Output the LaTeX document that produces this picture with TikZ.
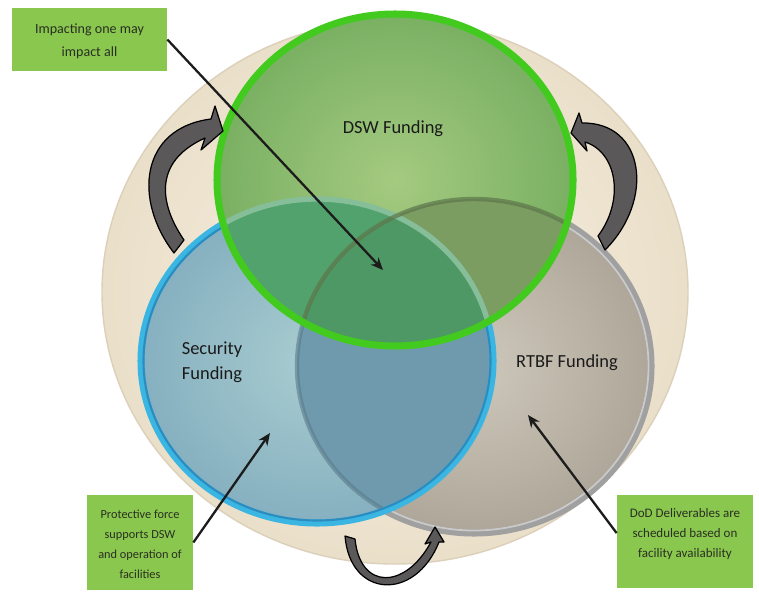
\documentclass[tikz,border=0pt]{standalone}
\usepackage{fontspec}
\setmainfont{Carlito}
\usetikzlibrary{arrows.meta,calc}

\definecolor{beigein}{HTML}{F7F1E4}
\definecolor{beigeout}{HTML}{EADFC9}
\definecolor{beigeedge}{HTML}{DCD0BA}
\definecolor{grayin}{HTML}{CEC8BC}
\definecolor{grayout}{HTML}{AEA799}
\definecolor{grayring}{HTML}{A0A0A0}
\definecolor{grayhi}{HTML}{CACACA}
\definecolor{bluein}{HTML}{A9CDD0}
\definecolor{blueout}{HTML}{86B0C0}
\definecolor{bluering}{HTML}{3BB5E2}
\definecolor{bluedeep}{HTML}{2B8CC0}
\definecolor{slate}{HTML}{6F9AAD}
\definecolor{greenin}{HTML}{A4CA80}
\definecolor{greenout}{HTML}{7AB063}
\definecolor{greenring}{HTML}{42CA1F}
\definecolor{tealgreen}{HTML}{52A26E}
\definecolor{olive}{HTML}{7C9D62}
\definecolor{triple}{HTML}{4E9866}
\definecolor{boxgreen}{HTML}{8AC74F}
\definecolor{boxtextc}{HTML}{2A2F22}
\definecolor{labelblack}{HTML}{1A1A1A}
\definecolor{turngray}{HTML}{5A5858}
\definecolor{leadgray}{HTML}{1C1C1C}

\tikzset{
  dswshape/.style={insert path={(395,180) ellipse [x radius=178, y radius=166]}},
  secshape/.style={insert path={(317,361) ellipse [x radius=176, y radius=162]}},
  rtbfshape/.style={insert path={(474,366) ellipse [x radius=177, y radius=167]}},
  ring/.style={line width=4pt},
  callout/.style={fill=boxgreen, inner sep=0pt},
  lead/.style={draw=leadgray, line width=1.3pt, -{Stealth[length=7pt,width=6pt]}},
  turnarrow/.style={fill=turngray, draw=black, line width=0.7pt, line join=round},
  bigtext/.style={font=\fontsize{10.5}{14}\selectfont, text=labelblack, align=center},
  boxtext/.style={text=boxtextc, align=center},
}

\begin{document}
\begin{tikzpicture}[x=0.02cm,y=-0.02cm]
\useasboundingbox (0,0) rectangle (759,605);
\fill[white] (0,0) rectangle (759,605);

% outer disc
\shade[inner color=beigein, outer color=beigeout] (395,292) ellipse [x radius=293, y radius=272];
\draw[beigeedge, line width=0.8pt] (395,292) ellipse [x radius=293, y radius=272];

% RTBF circle
\shade[inner color=grayin, outer color=grayout, rtbfshape];
\draw[grayring, ring, rtbfshape];
\draw[grayhi, line width=1pt] (474,366) ellipse [x radius=174.5, y radius=164.5];

% Security circle
\shade[inner color=bluein, outer color=blueout, secshape];
\begin{scope}
  \clip[secshape];
  \fill[slate, rtbfshape];
  \draw[color=slate!80!black, line width=2.5pt, opacity=0.6, rtbfshape];
\end{scope}
\draw[bluering, ring, secshape];
\draw[bluedeep, line width=1.2pt] (317,361) ellipse [x radius=173.5, y radius=159.5];

% DSW circle
\shade[inner color=greenin, outer color=greenout, dswshape];
\begin{scope}
  \clip[dswshape];
  \fill[tealgreen, secshape];
  \fill[olive, rtbfshape];
  \begin{scope}
    \clip[secshape];
    \fill[triple, rtbfshape];
  \end{scope}
  \draw[color=tealgreen!70!white, line width=3pt, secshape];
  \draw[color=olive!75!black, line width=2.5pt, opacity=0.7, rtbfshape];
\end{scope}
\draw[greenring, ring, dswshape];

% circle labels
\node[bigtext] (dswlbl) at (393,129) {DSW Funding};
\node[bigtext] (seclbl) at (212,362) {Security\\Funding};
\node[bigtext] (rtbflbl) at (567,363) {RTBF Funding};

% curved turn arrows between the circles
\path[turnarrow] (174,253) -- (184,240)
  .. controls (160,205) and (152,162) .. (205,138)
  -- (201,150) -- (223,131) -- (215,106) -- (211,119)
  .. controls (140,128) and (133,200) .. (174,253) -- cycle;
\path[turnarrow] (605,250) -- (598,236)
  .. controls (625,200) and (617,152) .. (585,142)
  -- (587,151) -- (571,133) -- (579,113) -- (582,123)
  .. controls (645,122) and (655,200) .. (605,250) -- cycle;
\path[turnarrow] (345,536) -- (355,539)
  .. controls (360,590) and (405,590) .. (431,542)
  -- (425,544) -- (435,527) -- (444,542) -- (439,542)
  .. controls (415,602) and (350,598) .. (345,536) -- cycle;

% callout boxes
\node[callout, minimum width=3.1cm, minimum height=1.26cm] (boxall) at (89.5,39.5) {};
\node[boxtext, font=\fontsize{8}{13}\selectfont] (txtall) at (89.5,41) {Impacting one may\\impact all};

\node[callout, minimum width=2.12cm, minimum height=1.9cm] (boxsec) at (140,542.5) {};
\node[boxtext, font=\fontsize{7}{11.4}\selectfont] (txtsec) at (140,544) {Protective force\\supports DSW\\and operation of\\facilities};

\node[callout, minimum width=2.72cm, minimum height=1.86cm] (boxdod) at (685,541.5) {};
\node[boxtext, font=\fontsize{7.4}{11.6}\selectfont] (txtdod) at (685,534) {DoD Deliverables are\\scheduled based on\\facility availability};

% leader arrows
\coordinate (tipall) at (383,270);
\coordinate (tipsec) at (270,433);
\coordinate (tipdod) at (528,415);
\draw[lead] (boxall.east) -- (tipall);
\draw[lead] (boxsec.east) -- (tipsec);
\draw[lead] ($(boxdod.north west)!0.41!(boxdod.south west)$) -- (tipdod);
\end{tikzpicture}
\end{document}
